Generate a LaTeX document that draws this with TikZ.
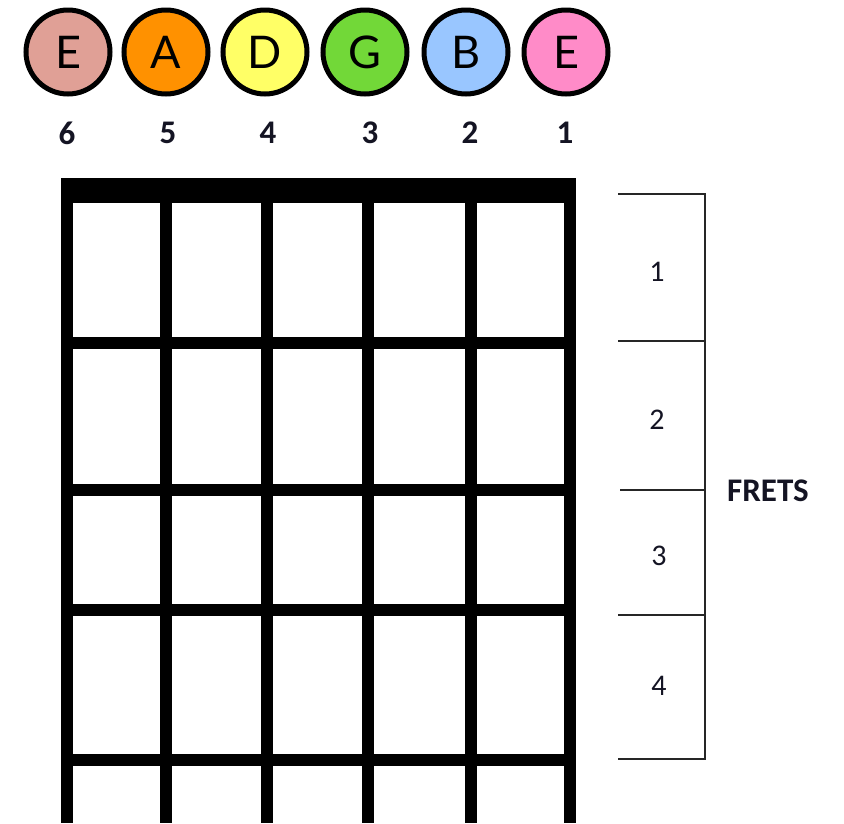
\documentclass[tikz,border=0pt]{standalone}
\usepackage{fontspec}
\setmainfont{Carlito}
\newfontfamily\notefont{Lato}
\definecolor{cE}{RGB}{224,160,150}
\definecolor{cA}{RGB}{255,145,0}
\definecolor{cD}{RGB}{255,255,102}
\definecolor{cG}{RGB}{114,216,56}
\definecolor{cB}{RGB}{153,198,255}
\definecolor{cEh}{RGB}{255,139,200}
\definecolor{txt}{RGB}{20,20,35}
\begin{document}
\begin{tikzpicture}[x=1pt,y=-1pt,
  note/.style={circle,draw=black,line width=5pt,minimum size=84pt,inner sep=0pt,
    font=\notefont\fontsize{45}{45}\selectfont},
  strnum/.style={font=\bfseries\fontsize{33}{33}\selectfont,text=txt,inner sep=0pt},
  fretnum/.style={font=\fontsize{30}{30}\selectfont,text=txt,inner sep=0pt},
  wire/.style={line width=12pt,line cap=butt},
  bracket/.style={line width=1.8pt,draw=black!85}]
\useasboundingbox (0,0) rectangle (844,823);
% note circles
\node[note,fill=cE]  (n6) at (68,52)  {E};
\node[note,fill=cA]  (n5) at (166,52) {A};
\node[note,fill=cD]  (n4) at (265,52) {D};
\node[note,fill=cG]  (n3) at (365,52) {G};
\node[note,fill=cB]  (n2) at (466,52) {B};
\node[note,fill=cEh] (n1) at (566,52) {E};
% string numbers
\node[strnum] (s6) at (67,133)  {6};
\node[strnum] (s5) at (168,133) {5};
\node[strnum] (s4) at (268,133) {4};
\node[strnum] (s3) at (370,133) {3};
\node[strnum] (s2) at (470,133) {2};
\node[strnum] (s1) at (565,133) {1};
% nut
\fill (61,178) rectangle (576,203);
% strings
\foreach \i/\x in {6/67,5/166,4/267,3/368,2/471,1/570}{
  \coordinate (t\i) at (\x,190);
  \coordinate (b\i) at (\x,823);
  \draw[wire] (t\i) -- (b\i);
}
% frets
\foreach \j/\y in {1/343,2/490,3/610,4/760}{
  \coordinate (fl\j) at (61,\y);
  \coordinate (fr\j) at (576,\y);
  \draw[wire] (fl\j) -- (fr\j);
}
% bracket
\coordinate (v0) at (705,194);
\coordinate (v1) at (705,341);
\coordinate (v2) at (705,490);
\coordinate (v3) at (705,615);
\coordinate (v4) at (705,759);
\coordinate (h0) at (618,194);
\coordinate (h1) at (618,341);
\coordinate (h2) at (620,490);
\coordinate (h3) at (618,615);
\coordinate (h4) at (618,759);
\draw[bracket] (h0) -- (v0) -- (v4) -- (h4);
\draw[bracket] (h1) -- (v1);
\draw[bracket] (h2) -- (v2);
\draw[bracket] (h3) -- (v3);
\node[fretnum] (f1) at (657,272) {1};
\node[fretnum] (f2) at (657,420) {2};
\node[fretnum] (f3) at (659,556) {3};
\node[fretnum] (f4) at (659,686) {4};
\node[strnum,anchor=west] (frets) at (727,491) {FRETS};
\end{tikzpicture}
\end{document}
